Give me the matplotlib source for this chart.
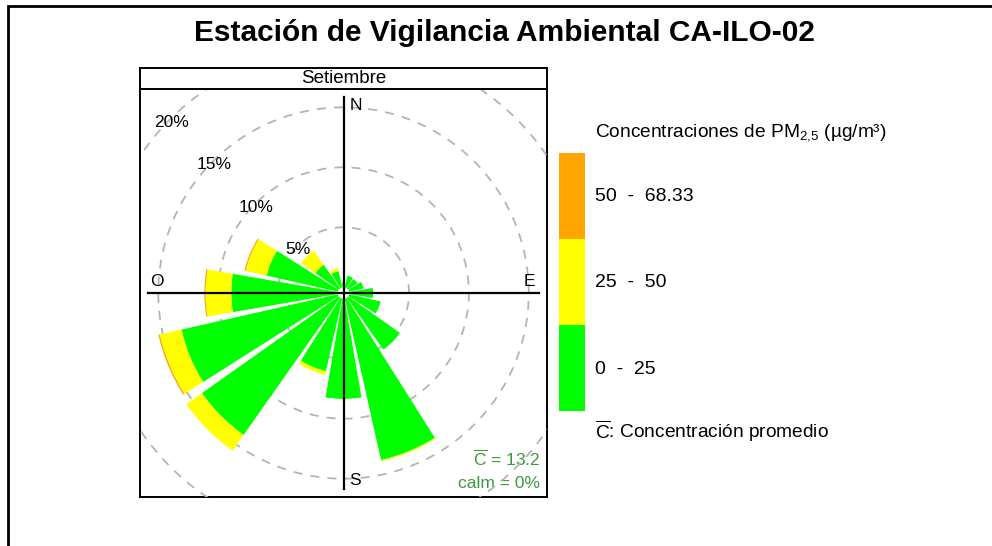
import numpy as np
import matplotlib
matplotlib.use("Agg")
import matplotlib.pyplot as plt
from matplotlib.patches import Wedge, Circle, Rectangle

plt.rcParams['font.family'] = ['Liberation Sans', 'DejaVu Sans']
plt.rcParams['mathtext.fontset'] = 'custom'
plt.rcParams['mathtext.rm'] = 'Liberation Sans'
plt.rcParams['mathtext.it'] = 'Liberation Sans:italic'
plt.rcParams['mathtext.bf'] = 'Liberation Sans:bold'

# datos (frecuencia % por direccion y rango de concentracion)
direcciones = [0, 22.5, 45, 67.5, 90, 112.5, 135, 157.5, 180, 202.5, 225, 247.5, 270, 292.5, 315, 337.5]
verde = [0.4, 1.0, 0.95, 1.25, 2.0, 2.7, 5.3, 13.8, 8.35, 6.2, 14.0, 13.4, 8.9, 6.1, 2.4, 1.4]
amarillo = [0, 0, 0, 0, 0, 0, 0, 0.1, 0, 0.3, 1.6, 1.85, 2.15, 1.8, 1.45, 0.25]
naranja = [0, 0, 0, 0, 0, 0, 0, 0, 0, 0, 0, 0.12, 0.1, 0.1, 0, 0]
colores = ['#00FF00', '#FFFF00', '#FFA500']
rangos = ['0  -  25', '25  -  50', '50  -  68.33']
anillos = [5, 10, 15, 20]
c_promedio = 13.2
calma = 0
mes = 'Setiembre'

offset = 0.475
medio_ancho = 9.8
lim = 17.0

fig = plt.figure(figsize=(9.92, 5.46), dpi=100)
W, H = 992, 546

# marco exterior
fig.add_artist(Rectangle((8 / W, -0.2), 1.2, 1.2 - 6 / H, transform=fig.transFigure,
                         fill=False, lw=2, ec='black'))

ax = fig.add_axes([140 / W, 1 - 497 / H, 407 / W, 408 / H])
ax.set_xlim(-lim, lim)
ax.set_ylim(-lim, lim)
ax.set_xticks([])
ax.set_yticks([])
for s in ax.spines.values():
    s.set_linewidth(1.4)

# circulos de referencia
for r in anillos:
    ax.add_patch(Circle((0, 0), r + offset, fill=False, ec='#b4b4b4', lw=1.3,
                        ls=(0, (5, 4.5)), zorder=5))

# barras apiladas
for d, v, a, n in zip(direcciones, verde, amarillo, naranja):
    t1 = 90 - d - medio_ancho
    t2 = 90 - d + medio_ancho
    base = offset
    for val, col in zip([v, a, n], colores):
        if val <= 0:
            continue
        ax.add_patch(Wedge((0, 0), base + val, t1, t2, width=val, fc=col, ec='none', zorder=6))
        base += val

# ejes N-S / E-O
ax.plot([0, 0], [-16.35, 16.35], color='black', lw=1.6, zorder=7)
ax.plot([-16.35, 16.35], [0, 0], color='black', lw=1.6, zorder=7)

ax.text(0.5, 15.6, 'N', fontsize=12.5, ha='left', va='center', zorder=8)
ax.text(0.5, -15.6, 'S', fontsize=12.5, ha='left', va='center', zorder=8)
ax.text(15.5, 1.0, 'E', fontsize=12.5, ha='center', va='center', zorder=8)
ax.text(-15.6, 1.0, 'O', fontsize=12.5, ha='center', va='center', zorder=8)

for r in anillos:
    rr = r + offset
    ax.text(-rr * np.sin(np.radians(45)) + 0.1, rr * np.cos(np.radians(45)) - 0.25, f'{r}%',
            fontsize=12.5, ha='center', va='center', zorder=8)

ax.text(16.4, -13.8, r'$\overline{\mathrm{C}}$ = ' + f'{c_promedio}', fontsize=12.5,
        color='#3a9a3a', ha='right', va='center', zorder=1)
ax.text(16.4, -15.9, f'calm = {calma}%', fontsize=12.5, color='#3a9a3a',
        ha='right', va='center', zorder=1)

# franja del panel
strip = fig.add_axes([140 / W, 1 - 89 / H, 407 / W, 21 / H])
strip.set_xticks([])
strip.set_yticks([])
for s in strip.spines.values():
    s.set_linewidth(1.4)
strip.text(0.5, 0.5, mes, fontsize=13.5, ha='center', va='center', transform=strip.transAxes)

# titulo
fig.text(504 / W, 1 - 33 / H, 'Estación de Vigilancia Ambiental CA-ILO-02', fontsize=21.5,
         fontweight='bold', ha='center', va='center')

# leyenda
leg = fig.add_axes([559 / W, 1 - 411 / H, 26 / W, 258 / H])
leg.bar([0, 0, 0], [1, 1, 1], bottom=[0, 1, 2], width=1, color=colores)
leg.set_xlim(-0.5, 0.5)
leg.set_ylim(0, 3)
leg.axis('off')
for i, lab in enumerate(rangos):
    fig.text(595 / W, 1 - (369 - 86.5 * i) / H, lab, fontsize=14, ha='left', va='center')
fig.text(595 / W, 1 - 133 / H, r'Concentraciones de PM$_{2{,}5}$ (µg/m³)', fontsize=13.8,
         ha='left', va='center')
fig.text(595 / W, 1 - 431 / H, r'$\overline{\mathrm{C}}$: Concentración promedio', fontsize=13.8,
         ha='left', va='center')

fig.savefig('out.png', dpi=100)
